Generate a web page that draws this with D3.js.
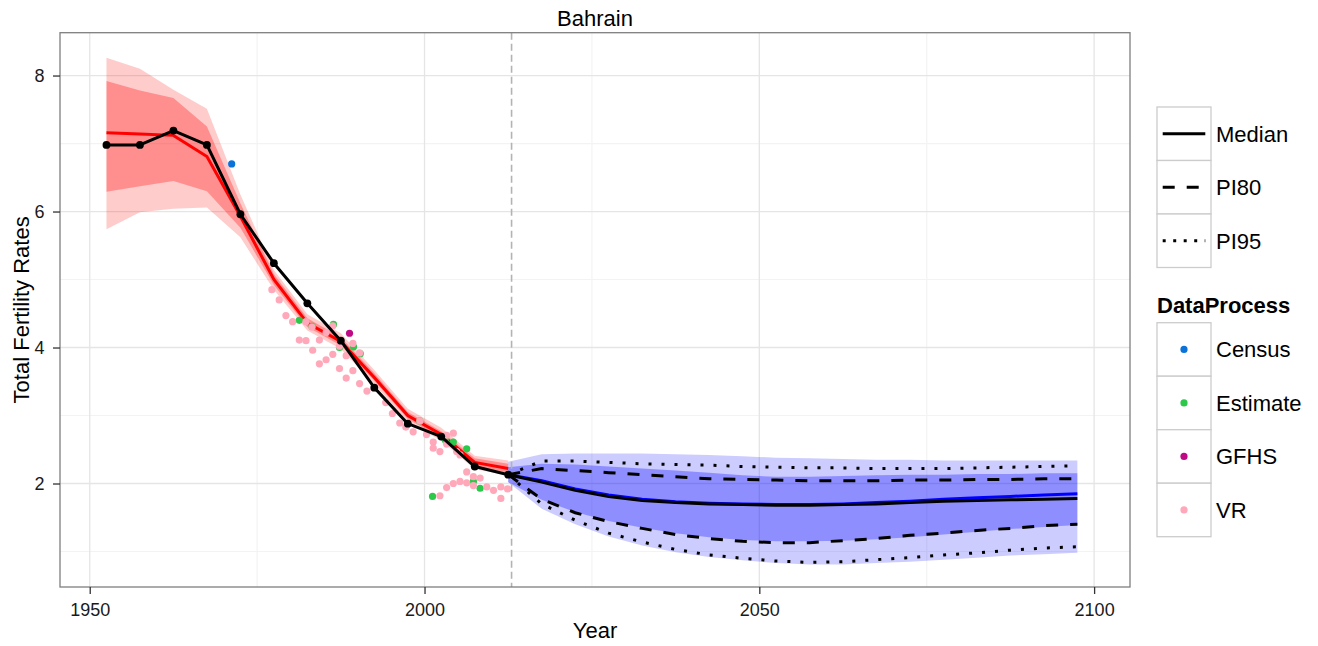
<!DOCTYPE html>
<html>
<head>
<meta charset="utf-8">
<script src="https://cdn.jsdelivr.net/npm/d3@7"></script>
<style>
  html, body { margin: 0; padding: 0; background: #ffffff; }
  svg { display: block; font-family: "Liberation Sans", Arial, Helvetica, sans-serif; }
</style>
</head>
<body>
<svg id="chart" width="1318" height="646"></svg>
<script>
// ---------------- DATA ----------------
const title = "Bahrain";
const xTicks = [1950, 2000, 2050, 2100];
const yTicks = [2, 4, 6, 8];
const xMinor = [1975, 2025, 2075];
const yMinor = [1, 3, 5, 7];

// estimation period (5-year midpoints)
const estYears = [1952.5, 1957.5, 1962.5, 1967.5, 1972.5, 1977.5, 1982.5, 1987.5, 1992.5, 1997.5, 2002.5, 2007.5, 2012.5];
const estMedianBlack = [6.98, 6.98, 7.19, 6.98, 5.96, 5.24, 4.65, 4.10, 3.41, 2.88, 2.69, 2.25, 2.13];
const estMedianRed   = [7.16, 7.14, 7.12, 6.81, 5.93, 5.00, 4.36, 4.09, 3.56, 3.00, 2.72, 2.31, 2.22];
const red80Lo = [6.29, 6.37, 6.45, 6.30, 5.76, 4.92, 4.30, 4.03, 3.51, 2.95, 2.67, 2.25, 2.16];
const red80Hi = [7.92, 7.78, 7.67, 7.25, 6.12, 5.08, 4.43, 4.15, 3.62, 3.05, 2.77, 2.37, 2.29];
const red95Lo = [5.74, 5.99, 6.04, 6.06, 5.62, 4.85, 4.25, 3.98, 3.46, 2.91, 2.63, 2.21, 2.12];
const red95Hi = [8.26, 8.10, 7.79, 7.51, 6.25, 5.14, 4.49, 4.21, 3.67, 3.10, 2.82, 2.41, 2.34];

// projection period
const projYears = [2012.5, 2017.5, 2022.5, 2027.5, 2032.5, 2037.5, 2042.5, 2047.5, 2052.5, 2057.5, 2062.5, 2067.5, 2072.5, 2077.5, 2082.5, 2087.5, 2092.5, 2097.5];
const projMedianBlack = [2.13, 2.02, 1.90, 1.81, 1.75, 1.72, 1.70, 1.69, 1.68, 1.68, 1.69, 1.70, 1.72, 1.74, 1.75, 1.76, 1.77, 1.78];
const projMedianBlue  = [2.13, 2.04, 1.92, 1.83, 1.77, 1.73, 1.71, 1.70, 1.69, 1.69, 1.70, 1.72, 1.74, 1.77, 1.79, 1.81, 1.83, 1.85];
const pi80Lo = [2.13, 1.77, 1.57, 1.44, 1.34, 1.25, 1.19, 1.15, 1.13, 1.13, 1.16, 1.19, 1.24, 1.27, 1.31, 1.34, 1.38, 1.40];
const pi80Hi = [2.13, 2.22, 2.19, 2.16, 2.13, 2.10, 2.07, 2.06, 2.05, 2.04, 2.04, 2.04, 2.05, 2.05, 2.06, 2.06, 2.07, 2.07];
const pi95Lo = [2.13, 1.70, 1.46, 1.27, 1.14, 1.03, 0.95, 0.90, 0.86, 0.84, 0.85, 0.88, 0.91, 0.95, 0.98, 1.02, 1.05, 1.07];
const pi95Hi = [2.13, 2.33, 2.33, 2.31, 2.29, 2.28, 2.27, 2.25, 2.24, 2.23, 2.23, 2.22, 2.22, 2.22, 2.23, 2.24, 2.25, 2.26];
const blue80Lo = [2.02, 1.76, 1.58, 1.45, 1.35, 1.27, 1.21, 1.17, 1.15, 1.15, 1.16, 1.18, 1.21, 1.25, 1.29, 1.33, 1.36, 1.39];
const blue80Hi = [2.24, 2.29, 2.28, 2.25, 2.22, 2.19, 2.16, 2.12, 2.10, 2.10, 2.11, 2.12, 2.13, 2.13, 2.14, 2.14, 2.15, 2.15];
const blue95Lo = [2.02, 1.63, 1.40, 1.22, 1.09, 0.99, 0.92, 0.87, 0.83, 0.81, 0.81, 0.83, 0.85, 0.88, 0.91, 0.94, 0.96, 0.98];
const blue95Hi = [2.32, 2.43, 2.44, 2.44, 2.44, 2.43, 2.42, 2.40, 2.38, 2.37, 2.36, 2.35, 2.35, 2.34, 2.34, 2.34, 2.34, 2.34];

const presentYear = 2013;

// observed data points
const censusYears = [1971.2];
const censusValues = [6.70];
const estimateYears  = [1981.3, 1983.2, 1986.4, 1987.3, 1989.4, 1990.4, 1999.3, 2001.2, 2003.1, 2004.3, 2006.3, 2007.3, 2008.3];
const estimateValues = [4.40, 4.31, 4.34, 4.00, 4.01, 3.91, 2.92, 1.81, 2.64, 2.61, 2.51, 2.03, 1.93];
const gfhsYears = [1988.8];
const gfhsValues = [4.21];
const vrYears = [1977.2, 1978.3, 1979.3, 1980.3, 1982.3, 1983.2, 1985.3, 1986.3, 1987.3, 1988.3, 1989.3, 1990.3,
                 1981.3, 1982.3, 1983.3, 1984.3, 1984.3, 1985.3, 1986.3, 1987.3, 1988.3, 1989.3, 1990.3, 1991.4,
                 1992.5, 1994.2, 1995.2, 1996.3, 1997.2, 1998.3, 1999.3, 2000.3, 2001.3, 2001.3, 2002.3, 2003.3,
                 2004.3, 2003.3, 2004.8, 2005.3, 2006.3, 2007.3, 2008.3, 2002.3, 2003.3, 2004.3, 2005.3, 2006.3,
                 2007.3, 2009.3, 2010.3, 2011.4, 2012.4, 2011.4];
const vrValues = [4.85, 4.70, 4.47, 4.38, 4.38, 4.30, 4.22, 4.32, 4.02, 3.88, 4.06, 3.92,
                  4.11, 4.10, 3.96, 4.11, 3.76, 3.82, 3.90, 3.69, 3.55, 3.66, 3.47, 3.36,
                  3.41, 3.19, 3.03, 2.89, 2.83, 2.76, 2.92, 2.72, 2.61, 2.52, 2.47, 2.71,
                  2.74, 2.58, 2.47, 2.42, 2.17, 2.10, 2.08, 1.82, 1.94, 2.00, 2.03, 2.01,
                  1.97, 1.95, 1.90, 1.95, 1.92, 1.78];

const lineLegend = ["Median", "PI80", "PI95"];
const dpCategories = ["Census", "Estimate", "GFHS", "VR"];
const dpColors = ["#0a72d8", "#2bc84a", "#bf0a85", "#ffa8ba"];

// ---------------- LAYOUT ----------------
const svg = d3.select("#chart");
const P = {left: 60, right: 1130, top: 32.7, bottom: 587};
const x = d3.scaleLinear().domain([1945.56, 2105.36]).range([P.left, P.right]);
const y = d3.scaleLinear().domain([0.478, 8.63]).range([P.bottom, P.top]);
const fontAxis = 18, fontBig = 22;

const zip = (xs, ys) => xs.map((v, i) => [v, ys[i]]);
const zip3 = (xs, lo, hi) => xs.map((v, i) => [v, lo[i], hi[i]]);

svg.append("rect").attr("width", 1318).attr("height", 646).attr("fill", "#fff");

// panel background
svg.append("rect").attr("x", P.left).attr("y", P.top)
  .attr("width", P.right - P.left).attr("height", P.bottom - P.top).attr("fill", "#fff");

svg.append("clipPath").attr("id", "clip").append("rect")
  .attr("x", P.left).attr("y", P.top).attr("width", P.right - P.left).attr("height", P.bottom - P.top);

const grid = svg.append("g");
grid.selectAll(".xm").data(xMinor).join("line")
  .attr("x1", d => x(d)).attr("x2", d => x(d)).attr("y1", P.top).attr("y2", P.bottom)
  .attr("stroke", "#f3f3f3").attr("stroke-width", 1.2);
grid.selectAll(".ym").data(yMinor).join("line")
  .attr("y1", d => y(d)).attr("y2", d => y(d)).attr("x1", P.left).attr("x2", P.right)
  .attr("stroke", "#f3f3f3").attr("stroke-width", 1.2);
grid.selectAll(".xM").data(xTicks).join("line")
  .attr("x1", d => x(d)).attr("x2", d => x(d)).attr("y1", P.top).attr("y2", P.bottom)
  .attr("stroke", "#e5e5e5").attr("stroke-width", 1.3);
grid.selectAll(".yM").data(yTicks).join("line")
  .attr("y1", d => y(d)).attr("y2", d => y(d)).attr("x1", P.left).attr("x2", P.right)
  .attr("stroke", "#e5e5e5").attr("stroke-width", 1.3);

const plot = svg.append("g").attr("clip-path", "url(#clip)");

const area = d3.area().x(d => x(d[0])).y0(d => y(d[1])).y1(d => y(d[2]));
const line = d3.line().x(d => x(d[0])).y(d => y(d[1]));

// bands
plot.append("path").attr("d", area(zip3(estYears, red95Lo, red95Hi))).attr("fill", "#ff0000").attr("fill-opacity", 0.2);
plot.append("path").attr("d", area(zip3(estYears, red80Lo, red80Hi))).attr("fill", "#ff0000").attr("fill-opacity", 0.3);
plot.append("path").attr("d", area(zip3(projYears, blue95Lo, blue95Hi))).attr("fill", "#0000ff").attr("fill-opacity", 0.2);
plot.append("path").attr("d", area(zip3(projYears, blue80Lo, blue80Hi))).attr("fill", "#0000ff").attr("fill-opacity", 0.3);

// present year marker
plot.append("line").attr("x1", x(presentYear)).attr("x2", x(presentYear))
  .attr("y1", P.top).attr("y2", P.bottom)
  .attr("stroke", "#b3b3b3").attr("stroke-width", 1.6).attr("stroke-dasharray", "7,4");

// model medians
plot.append("path").attr("d", line(zip(estYears, estMedianRed)))
  .attr("fill", "none").attr("stroke", "#ff0000").attr("stroke-width", 3);
plot.append("path").attr("d", line(zip(projYears, projMedianBlue)))
  .attr("fill", "none").attr("stroke", "#0000ff").attr("stroke-width", 3);

// observed points
const groups = [
  [censusYears, censusValues],
  [estimateYears, estimateValues],
  [gfhsYears, gfhsValues],
  [vrYears, vrValues]
];
groups.forEach((g, gi) => {
  plot.append("g").selectAll("circle").data(zip(g[0], g[1])).join("circle")
    .attr("cx", d => x(d[0])).attr("cy", d => y(d[1])).attr("r", 3.6)
    .attr("fill", dpColors[gi]);
});

// black lines
plot.append("path").attr("d", line(zip(estYears, estMedianBlack).concat(zip(projYears, projMedianBlack).slice(1))))
  .attr("fill", "none").attr("stroke", "#000").attr("stroke-width", 3).attr("stroke-linejoin", "round");
[pi80Lo, pi80Hi].forEach(arr => {
  plot.append("path").attr("d", line(zip(projYears, arr)))
    .attr("fill", "none").attr("stroke", "#000").attr("stroke-width", 3).attr("stroke-dasharray", "12,12");
});
[pi95Lo, pi95Hi].forEach(arr => {
  plot.append("path").attr("d", line(zip(projYears, arr)))
    .attr("fill", "none").attr("stroke", "#000").attr("stroke-width", 3).attr("stroke-dasharray", "3,10");
});
plot.append("g").selectAll("circle").data(zip(estYears, estMedianBlack)).join("circle")
  .attr("cx", d => x(d[0])).attr("cy", d => y(d[1])).attr("r", 3.9).attr("fill", "#000");

// panel border
svg.append("rect").attr("x", P.left).attr("y", P.top)
  .attr("width", P.right - P.left).attr("height", P.bottom - P.top)
  .attr("fill", "none").attr("stroke", "#7f7f7f").attr("stroke-width", 1.3);

// axes
const xAxis = svg.append("g").attr("transform", `translate(0,${P.bottom})`)
  .call(d3.axisBottom(x).tickValues(xTicks).tickFormat(d3.format("d")).tickSize(7).tickPadding(9));
const yAxis = svg.append("g").attr("transform", `translate(${P.left},0)`)
  .call(d3.axisLeft(y).tickValues(yTicks).tickFormat(d3.format("d")).tickSize(7).tickPadding(8.5));
[xAxis, yAxis].forEach(a => {
  a.select(".domain").remove();
  a.selectAll(".tick line").attr("stroke", "#333").attr("stroke-width", 1.3);
  a.selectAll(".tick text").attr("fill", "#1a1a1a").style("font-size", fontAxis + "px")
    .style("font-family", "'Liberation Sans', Arial, sans-serif");
});

// titles
svg.append("text").attr("x", (P.left + P.right) / 2).attr("y", 26).attr("text-anchor", "middle")
  .style("font-size", fontBig + "px").text(title);
svg.append("text").attr("x", (P.left + P.right) / 2).attr("y", 638).attr("text-anchor", "middle")
  .style("font-size", fontBig + "px").text("Year");
svg.append("text").attr("transform", `translate(29,${(P.top + P.bottom) / 2}) rotate(-90)`)
  .attr("text-anchor", "middle").style("font-size", fontBig + "px").text("Total Fertility Rates");

// legend: line types
const L = {x: 1157, w: 54, h: 53.5};
const lg1Top = 107;
const dashes = [null, "12,12", "3,7.5"];
lineLegend.forEach((lab, i) => {
  const yy = lg1Top + i * L.h;
  svg.append("rect").attr("x", L.x).attr("y", yy).attr("width", L.w).attr("height", L.h)
    .attr("fill", "#fff").attr("stroke", "#cccccc").attr("stroke-width", 1.3);
  const ln = svg.append("line").attr("x1", L.x + 5.7).attr("x2", L.x + 48.3)
    .attr("y1", yy + L.h / 2).attr("y2", yy + L.h / 2)
    .attr("stroke", "#000").attr("stroke-width", 3);
  if (dashes[i]) ln.attr("stroke-dasharray", dashes[i]);
  svg.append("text").attr("x", 1216).attr("y", yy + L.h / 2).attr("dy", "0.36em")
    .style("font-size", fontBig + "px").text(lab);
});

// legend: DataProcess
svg.append("text").attr("x", L.x).attr("y", 313).style("font-size", fontBig + "px")
  .style("font-weight", "bold").text("DataProcess");
const lg2Top = 322.7;
dpCategories.forEach((lab, i) => {
  const yy = lg2Top + i * L.h;
  svg.append("rect").attr("x", L.x).attr("y", yy).attr("width", L.w).attr("height", L.h)
    .attr("fill", "#fff").attr("stroke", "#cccccc").attr("stroke-width", 1.3);
  svg.append("circle").attr("cx", L.x + L.w / 2).attr("cy", yy + L.h / 2).attr("r", 3.6)
    .attr("fill", dpColors[i]);
  svg.append("text").attr("x", 1216).attr("y", yy + L.h / 2).attr("dy", "0.36em")
    .style("font-size", fontBig + "px").text(lab);
});
</script>
</body>
</html>
